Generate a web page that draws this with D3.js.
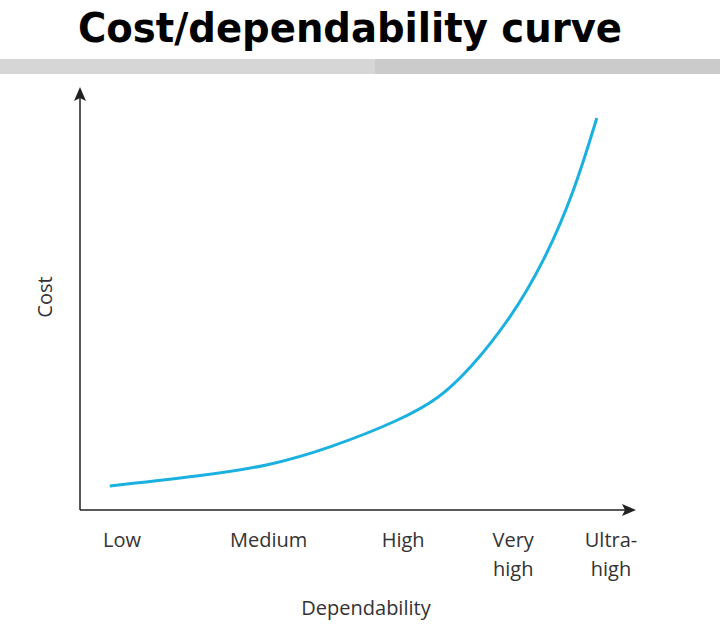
<!DOCTYPE html>
<html><head><meta charset="utf-8">
<script src="https://cdn.jsdelivr.net/npm/d3@7"></script>
<style>body{margin:0;background:#fff}</style>
</head><body>
<script>
// dependability on a 0-100 scale, cost on a 0-100 scale
var levels = ["Low", "Medium", "High", "Very high", "Ultra-high"];
var levelPos = [0, 30, 57.5, 80, 100];
var curveX = [-2.5, 16, 30, 42.5, 57, 65, 71, 79.3, 86.5, 92.6, 97.1];
var curveCost = [6, 8.5, 11, 15.5, 22.5, 28, 35, 47.5, 62.5, 80, 98];

var w = 720, h = 630;
var svg = d3.select("body").append("svg").attr("width", w).attr("height", h);

svg.append("text").attr("x", 350).attr("y", 42).attr("text-anchor", "middle")
  .attr("font-family", "DejaVu Sans, Liberation Sans").attr("font-weight", "bold")
  .attr("font-size", 40).attr("textLength", 544).attr("lengthAdjust", "spacingAndGlyphs")
  .text("Cost/dependability curve");

svg.append("rect").attr("x", 0).attr("y", 59).attr("width", 375).attr("height", 15).attr("fill", "#d6d6d6");
svg.append("rect").attr("x", 375).attr("y", 59).attr("width", 345).attr("height", 15).attr("fill", "#cbcbcb");

var x = d3.scaleLinear().domain([0, 100]).range([122, 611]);
var y = d3.scaleLinear().domain([0, 100]).range([510, 110]);

// axes
svg.append("line").attr("x1", 80).attr("y1", 510).attr("x2", 628).attr("y2", 510).attr("stroke", "#222").attr("stroke-width", 1.5);
svg.append("line").attr("x1", 80).attr("y1", 510).attr("x2", 80).attr("y2", 95).attr("stroke", "#222").attr("stroke-width", 1.5);
svg.append("path").attr("d", "M636,510 L622,504 L625,510 L622,516 Z").attr("fill", "#222");
svg.append("path").attr("d", "M80,87 L74,101 L80,98 L86,101 Z").attr("fill", "#222");

var font = "Open Sans, Noto Sans, sans-serif";
var lab = svg.append("g").attr("font-family", font).attr("font-size", 20).attr("fill", "#333").attr("text-anchor", "middle");
levels.forEach(function (d, i) {
  var parts = d.indexOf("Ultra") === 0 ? ["Ultra-", "high"] : d.split(" ");
  parts.forEach(function (p, j) {
    lab.append("text").attr("x", x(levelPos[i])).attr("y", 547 + j * 29).attr("fill", "#333").text(p);
  });
});
svg.append("text").attr("x", 366).attr("y", 615).attr("text-anchor", "middle")
  .attr("font-family", font).attr("font-size", 20).attr("fill", "#333").text("Dependability");
svg.append("text").attr("transform", "translate(52,297) rotate(-90)").attr("text-anchor", "middle")
  .attr("font-family", font).attr("font-size", 20).attr("fill", "#333").text("Cost");

var line = d3.line().x(function (d) { return x(d[0]); }).y(function (d) { return y(d[1]); }).curve(d3.curveBasis);
svg.append("path").datum(d3.zip(curveX, curveCost)).attr("d", line)
  .attr("fill", "none").attr("stroke", "#1ab0e0").attr("stroke-width", 3);
</script>
</body></html>
